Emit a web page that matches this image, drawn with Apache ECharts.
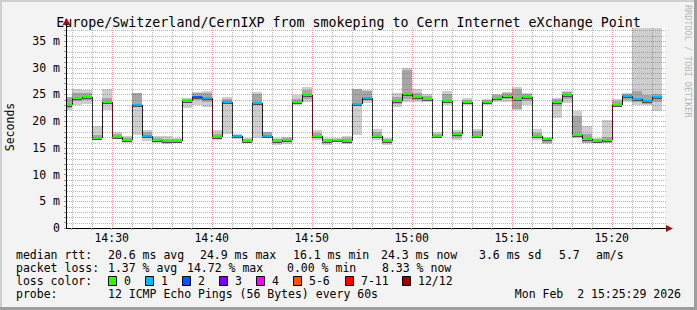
<!DOCTYPE html>
<html><head><meta charset="utf-8">
<script src="https://cdn.jsdelivr.net/npm/echarts@6/dist/echarts.min.js"></script>
<style>html,body{margin:0;padding:0;background:#f3f3f3}#c{width:697px;height:310px}</style>
</head><body><div id="c"></div>
<script>
// ---- data (one value per 1-minute step; step k ends at 14:26 + k min) ----
const firstStepEnd = '14:26';
const median = [23.0,24.4,24.6,16.9,23.5,17.0,16.5,23.0,17.2,16.5,
                16.2,16.3,23.8,24.6,24.4,17.0,23.6,17.2,16.3,23.4,
                17.3,16.3,16.5,23.5,24.8,17.2,16.2,16.4,16.3,23.3,
                24.4,17.2,16.2,23.8,25.0,24.6,24.1,17.2,23.8,17.6,
                23.6,17.3,23.5,24.4,24.7,24.2,24.6,17.2,16.7,23.6,
                24.8,17.4,16.6,16.3,16.5,23.0,24.7,24.1,23.8,24.5];
const lossCount = [0,0,0,0,0,0,0,1,1,0, 0,0,0,2,1,0,1,1,0,1,
                   1,0,0,0,0,0,0,0,0,1, 1,0,0,0,0,0,0,0,0,0,
                   0,0,0,0,0,0,0,0,0,0, 0,0,0,0,0,0,1,1,1,1];
const smokeLo = [22.1,23.0,23.3,16.7,22.1,16.6,15.9,17.4,16.3,16.0,
                 15.7,16.0,22.4,23.0,22.7,16.5,17.5,16.7,15.9,16.9,
                 16.9,15.6,15.8,23.0,23.6,16.5,15.6,16.1,15.7,17.4,
                 23.4,16.4,15.6,22.7,23.6,23.5,23.5,16.8,23.0,16.5,
                 23.0,17.0,23.0,23.5,23.6,22.1,23.0,16.4,15.7,20.6,
                 23.4,16.9,16.0,15.9,16.0,22.6,23.5,23.0,23.0,21.9];
const smokeHi = [24.6,26.0,25.9,19.1,26.0,18.0,17.3,25.3,18.3,17.3,
                 17.2,16.8,24.4,25.5,25.7,18.3,24.6,17.6,16.9,25.5,
                 18.0,16.9,17.0,24.8,26.3,18.3,16.9,16.9,17.2,26.1,
                 25.9,18.6,16.9,25.2,30.0,26.0,25.0,18.0,25.7,18.3,
                 24.4,18.5,24.2,25.0,25.5,26.3,25.3,18.6,17.1,24.4,
                 25.7,21.9,19.0,16.9,20.2,24.1,25.2,37.4,37.4,37.4];
const coreLo = [22.4,23.8,23.9,16.7,23.2,16.8,16.2,22.8,16.9,16.2,
                15.9,16.1,23.4,24.0,23.5,16.7,23.2,16.9,16.0,23.0,
                17.1,15.9,16.1,23.2,24.1,16.9,15.9,16.2,16.0,23.1,
                24.0,16.9,15.9,23.3,24.2,23.9,23.8,17.0,23.5,16.9,
                23.3,17.2,23.2,24.0,24.1,22.3,23.7,16.8,16.0,22.8,
                24.2,17.0,16.0,16.0,16.0,22.8,24.0,23.6,23.3,23.5];
const coreHi = [24.5,25.3,25.3,17.4,24.3,17.6,16.9,25.3,17.9,16.9,
                16.7,16.6,24.2,25.3,25.2,17.6,24.2,17.4,16.6,25.0,
                17.9,16.6,16.8,24.1,25.8,17.8,16.6,16.7,16.8,26.0,
                25.6,18.0,16.6,24.5,29.5,25.3,24.7,17.6,25.0,18.0,
                24.0,18.1,23.9,24.8,25.3,26.0,25.0,17.7,16.9,24.1,
                25.4,21.0,17.5,16.6,17.0,23.7,25.0,25.6,24.9,25.0];
const xTickValues = [30,40,50,60,70,80];           // minutes after 14:00
const xTickLabels = ['14:30','14:40','14:50','15:00','15:10','15:20'];
const yTickValues = [0,5,10,15,20,25,30,35];
const yTickLabels = ['0','5 m','10 m','15 m','20 m','25 m','30 m','35 m'];
const lossLegend = ['0','1','2','3','4','5-6','7-11','12/12'];
const lossColors = ['#26ff00','#00b8ff','#0059ff','#7e00ff','#ff00ff','#ff5500','#ff0000','#a10000'];
const statsRow1 = [['median rtt:',16],['20.6 ms avg',108],['24.9 ms max',200],['16.1 ms min',293],['24.3 ms now',381],['3.6 ms sd',479],['5.7',559],['am/s',596]];
const statsRow2 = [['packet loss:',16],['1.37 % avg',108],['14.72 % max',187],['0.00 % min',287],['8.33 % now',382]];

// ---- build ----
const [fh, fm] = firstStepEnd.split(':').map(Number);
const firstEnd = (fh - 14) * 60 + fm;
function lossIndex(n){ if(n<=4) return n; if(n<=6) return 5; if(n<=11) return 6; return 7; }
const stepData = median.map((m, k) => [firstEnd + k - 1, firstEnd + k, smokeLo[k], smokeHi[k], coreLo[k], coreHi[k], m, lossIndex(lossCount[k]), k > 0 ? median[k-1] : m]);

const X_MIN = 25.43, X_MAX = 85.43, Y_MAX = 37.43;
const MONO = '"DejaVu Sans Mono", monospace';

function renderItem(params, api) {
  const cs = params.coordSys;
  const clip = {x: cs.x, y: cs.y, width: cs.width, height: cs.height};
  const s = api.value(0), e = api.value(1);
  const x0 = Math.round(api.coord([s, 0])[0]), x1 = Math.round(api.coord([e, 0])[0]);
  const Y = v => Math.round(api.coord([s, v])[1]);
  const kids = [];
  function rect(yTop, h, fill) {
    const r = echarts.graphic.clipRectByRect({x: x0, y: yTop, width: x1 - x0, height: h}, clip);
    if (r) kids.push({type: 'rect', shape: r, style: {fill: fill}});
  }
  rect(Y(api.value(3)), Y(api.value(2)) - Y(api.value(3)), '#cecece');
  rect(Y(api.value(5)), Y(api.value(4)) - Y(api.value(5)), '#a6a6a6');
  const ym = Y(api.value(6)), yp = Y(api.value(8));
  rect(ym + 1, 1, '#505050');
  rect(ym - 1, 2, lossColors[api.value(7)]);
  if (params.dataIndex > 0 && yp !== ym) {
    kids.push({type: 'line', shape: {x1: x0 + 0.5, y1: yp, x2: x0 + 0.5, y2: ym}, style: {stroke: '#202020', lineWidth: 1}});
  }
  return {type: 'group', children: kids};
}

// grid lines: [value, kind] kind 0 = vertical minor, 1 = vertical major, 2 = horizontal minor, 3 = horizontal major
const gridData = [];
for (let t = 26; t <= 84; t += 2) gridData.push([t, t % 10 === 0 ? 1 : 0]);
for (let v = 1; v <= 37; v++) gridData.push([v, v % 5 === 0 ? 3 : 2]);
function renderGrid(params, api) {
  const cs = params.coordSys;
  const v = api.value(0), kind = api.value(1);
  const color = (kind === 1 || kind === 3) ? 'rgba(255,0,0,0.42)' : 'rgba(110,110,110,0.5)';
  let shape;
  if (kind < 2) {
    const x = Math.round(api.coord([v, 0])[0]) + 0.5;
    shape = {x1: x, y1: cs.y, x2: x, y2: cs.y + cs.height};
  } else {
    const y = Math.round(api.coord([X_MIN, v])[1]) + 0.5;
    shape = {x1: cs.x + 1, y1: y, x2: cs.x + cs.width, y2: y};
  }
  return {type: 'line', shape: shape, style: {stroke: color, lineWidth: 1, lineDash: [1, 1]}};
}

const tickX = []; for (let t = 26; t <= 84; t += 2) tickX.push(t);
const tickY = []; for (let v = 0; v <= 37; v++) tickY.push(v);

const graphics = [];
graphics.push({type:'rect', shape:{x:0,y:0,width:697,height:2}, style:{fill:'#cfcfcf'}});
graphics.push({type:'rect', shape:{x:0,y:0,width:2,height:310}, style:{fill:'#cfcfcf'}});
graphics.push({type:'rect', shape:{x:0,y:307,width:697,height:3}, style:{fill:'#9e9e9e'}});
graphics.push({type:'rect', shape:{x:694,y:0,width:3,height:310}, style:{fill:'#9e9e9e'}});
graphics.push({type:'polygon', shape:{points:[[666,225],[673,228.5],[666,232]]}, style:{fill:'#a01010'}, z: 10});
graphics.push({type:'polygon', shape:{points:[[62.5,25],[66.5,18],[70.5,25]]}, style:{fill:'#a01010'}, z: 10});
graphics.push({type:'rect', shape:{x:66,y:24,width:1,height:5}, style:{fill:'#000'}, z: 10});
graphics.push({type:'text', x: 688, y: 5, rotation: -Math.PI/2, style:{text:'RRDTOOL / TOBI OETIKER', font:'8.5px ' + MONO, fill:'#b8b8b8', align:'left', verticalAlign:'middle'}});
graphics.push({type:'text', x: 10, y: 127, rotation: Math.PI/2, style:{text:'Seconds', font:'11.5px ' + MONO, fill:'#000', align:'center', verticalAlign:'middle'}});
function txt(str, x, y, align) {
  graphics.push({type:'text', x: x, y: y, style:{text: str, font:'11.5px ' + MONO, fill:'#000', align: align || 'left', verticalAlign:'middle'}});
}
statsRow1.forEach(([t, x]) => txt(t, x, 255));
statsRow2.forEach(([t, x]) => txt(t, x, 268));
txt('loss color:', 16, 281);
const boxX = [108,145,182,219,256,293,345,402];
lossLegend.forEach((l, i) => {
  graphics.push({type:'rect', shape:{x: boxX[i] + 0.5, y: 276.5, width: 8, height: 9}, style:{fill: lossColors[i], stroke:'#000', lineWidth:1}});
  txt(l, boxX[i] + 16, 281);
});
txt('probe:', 16, 294);
txt('12 ICMP Echo Pings (56 Bytes) every 60s', 108, 294);
txt('Mon Feb\u00a0\u00a02 15:25:29 2026', 681, 294, 'right');

const option = {
  backgroundColor: '#f3f3f3',
  animation: false,
  title: {text: 'Europe/Switzerland/CernIXP from smokeping to Cern Internet eXchange Point', left: 'center', top: 11,
          textStyle: {fontFamily: MONO, fontSize: 13.3, fontWeight: 'normal', color: '#000'}},
  grid: {left: 66, top: 28, width: 600, height: 200, show: true, backgroundColor: '#fff', borderWidth: 0, outerBoundsMode: 'none', containLabel: false},
  xAxis: {type: 'value', min: X_MIN, max: X_MAX, z: 10,
          axisLine: {show: true, lineStyle: {color: '#000', width: 1}},
          axisTick: {show: true, length: 2, customValues: tickX, lineStyle: {color: '#999'}},
          axisLabel: {customValues: xTickValues, margin: 4, color: '#000', fontFamily: MONO, fontSize: 11.5,
                      formatter: v => xTickLabels[xTickValues.indexOf(Math.round(v))] || ''},
          splitLine: {show: false}},
  yAxis: {type: 'value', min: 0, max: Y_MAX, z: 10,
          axisLine: {show: true, lineStyle: {color: '#000', width: 1}},
          axisTick: {show: true, length: 2, customValues: tickY, lineStyle: {color: '#999'}},
          axisLabel: {customValues: yTickValues, margin: 6, color: '#000', fontFamily: MONO, fontSize: 11.5,
                      formatter: v => yTickLabels[yTickValues.indexOf(Math.round(v))] || ''},
          splitLine: {show: false}},
  graphic: {elements: graphics},
  series: [
    {type: 'custom', renderItem: renderItem, data: stepData, z: 2, silent: true,
     encode: {x: [0, 1], y: [2, 3]}},
    {type: 'custom', renderItem: renderGrid, data: gridData, z: 4, silent: true,
     encode: {x: -1, y: -1}}
  ]
};
const chart = echarts.init(document.getElementById('c'), null, {renderer: 'svg', width: 697, height: 310});
chart.setOption(option);
</script></body></html>
